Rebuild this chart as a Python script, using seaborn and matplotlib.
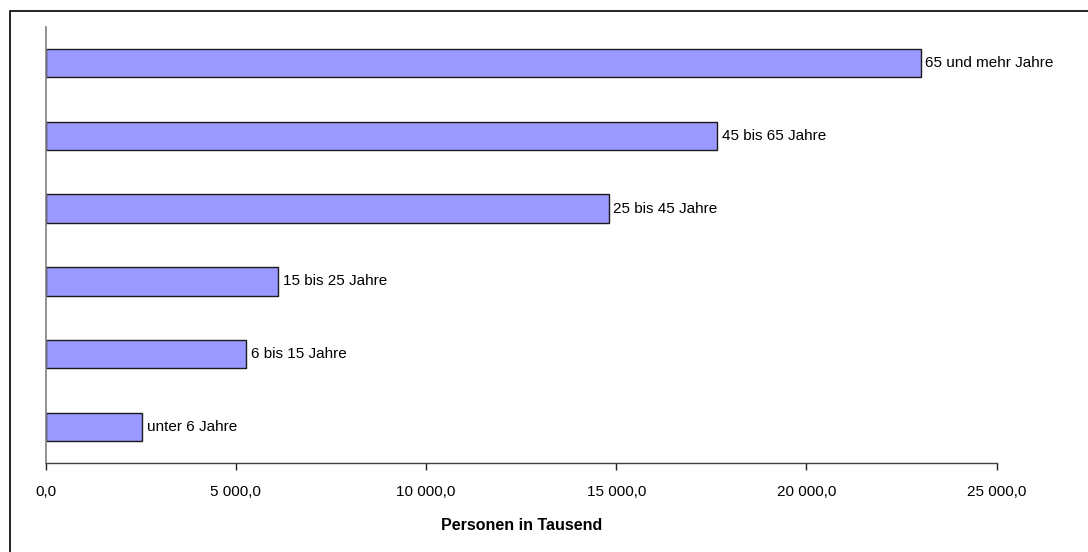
import matplotlib
matplotlib.use("Agg")
import matplotlib.pyplot as plt
from matplotlib.patches import Rectangle
from matplotlib.ticker import FuncFormatter
import seaborn as sns
import pandas as pd

# Altersgruppen von oben nach unten
altersgruppen = ["65 und mehr Jahre", "45 bis 65 Jahre", "25 bis 45 Jahre",
                 "15 bis 25 Jahre", "6 bis 15 Jahre", "unter 6 Jahre"]
personen_tsd = [23000.0, 17650.0, 14800.0, 6110.0, 5265.0, 2540.0]
x_ticks = [0, 5000, 10000, 15000, 20000, 25000]

df = pd.DataFrame({"Altersgruppe": altersgruppen, "Personen": personen_tsd})

sns.set_theme(style="white")
plt.rcParams["font.family"] = ["Liberation Sans", "DejaVu Sans"]

fig = plt.figure(figsize=(10.88, 5.52), dpi=100)
ax = fig.add_axes([0.042, 0.1607, 0.874, 0.791])

sns.barplot(data=df, x="Personen", y="Altersgruppe", order=altersgruppen,
            orient="h", color="#9999FF", saturation=1, width=0.39,
            edgecolor="#1a1a1a", linewidth=1.0, ax=ax)

# Beschriftung rechts neben jedem Balken
for patch, label in zip(ax.patches, altersgruppen):
    ax.annotate(label, (patch.get_width(), patch.get_y() + patch.get_height() / 2),
                xytext=(3.5, 0), textcoords="offset points", va="center", ha="left",
                fontsize=11, color="black")

def de_format(v, pos):
    s = f"{v:,.1f}"
    return s.replace(",", " ").replace(".", ",")

ax.set_xlim(0, 25000)
ax.set_ylim(len(altersgruppen) - 0.5, -0.5)
ax.set_xticks(x_ticks)
ax.xaxis.set_major_formatter(FuncFormatter(de_format))
ax.tick_params(axis="x", direction="out", length=5, width=1, color="#202020",
               labelsize=11, labelcolor="black", pad=10.5, bottom=True)
ax.tick_params(axis="y", left=False, labelleft=False)
ax.set_ylabel("")
ax.set_xlabel("Personen in Tausend", fontsize=11.5, fontweight="bold",
              labelpad=14, color="black")

for side in ("top", "right"):
    ax.spines[side].set_visible(False)
ax.spines["left"].set_color("#808080")
ax.spines["left"].set_linewidth(1.2)
ax.spines["bottom"].set_color("#404040")
ax.spines["bottom"].set_linewidth(1.0)

# Rahmen um das Diagramm
fig.patches.append(Rectangle((9.5 / 1088, -0.05), 1.1, 1 - 11 / 552 + 0.05,
                             transform=fig.transFigure, fill=False,
                             edgecolor="black", linewidth=1.2))

fig.savefig("out.png", dpi=100)
